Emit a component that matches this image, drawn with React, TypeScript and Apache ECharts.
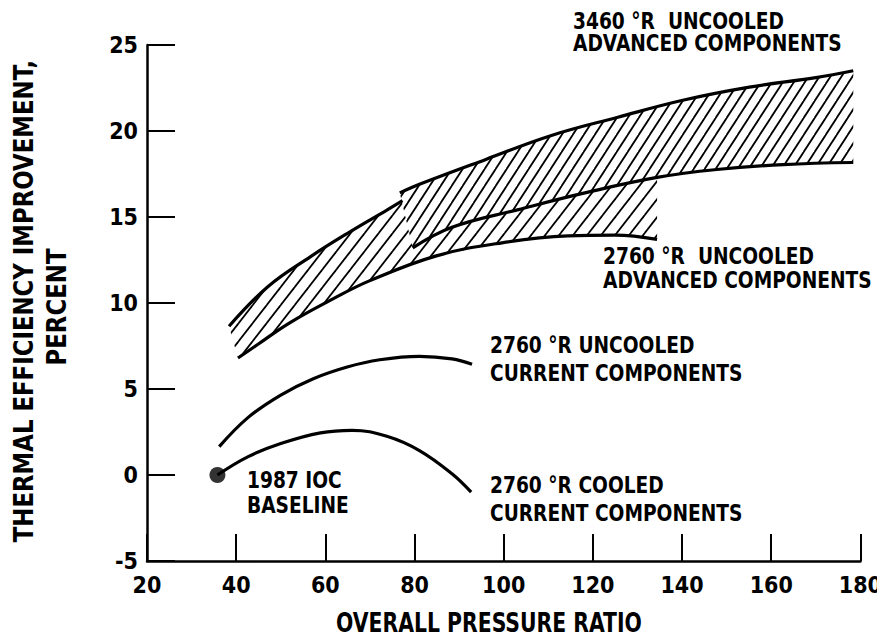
import React, { useEffect, useRef } from "react";
import * as echarts from "echarts";

// ---- data ----
const cooledCurrentX = [35.8, 42.7, 50, 58.9, 66, 73.8, 81.1, 88.4, 92.7];
const cooledCurrentY = [0.0, 1.07, 1.83, 2.45, 2.6, 2.25, 1.42, 0.07, -1.0];

const uncooledCurrentX = [36.2, 42.7, 50, 57.3, 64.9, 72.2, 81.1, 88.4, 92.9];
const uncooledCurrentY = [1.65, 3.35, 4.65, 5.6, 6.28, 6.7, 6.9, 6.75, 6.44];

const adv2760UpperX = [38.4, 47.1, 56.7, 65.6, 73.8, 77.3];
const adv2760UpperY = [8.65, 10.95, 12.7, 14.15, 15.4, 15.95];

const adv2760LowerX = [40.4, 44.9, 52, 61.8, 70, 84.9, 99.6, 114.4, 125, 134.4];
const adv2760LowerY = [6.8, 7.6, 8.85, 10.25, 11.3, 12.74, 13.5, 13.9, 13.95, 13.7];

const adv3460UpperX = [76.7, 81.1, 96, 110.7, 125.6, 140.4, 155.1, 170, 178.4];
const adv3460UpperY = [16.4, 16.9, 18.35, 19.74, 20.8, 21.8, 22.55, 23.1, 23.5];

const adv3460LowerX = [79.6, 88.4, 103.3, 118.2, 134.4, 147.8, 162.7, 178.4];
const adv3460LowerY = [13.2, 14.4, 15.43, 16.4, 17.3, 17.76, 18.05, 18.17];

const baselinePoint = [35.8, 0];

const xMin = 20;
const xMax = 180;
const xStep = 20;
const yMin = -5;
const yMax = 25;
const yStep = 5;

const xTitle = "OVERALL PRESSURE RATIO";
const yTitleLines = ["THERMAL EFFICIENCY IMPROVEMENT,", "PERCENT"];

const FONT = "'DejaVu Sans Condensed', 'Liberation Sans Narrow', 'Arial Narrow', sans-serif";

const zip = (xs: number[], ys: number[]) => xs.map((x, i) => [x, ys[i]]);

function makeHatch(w: number, h: number, lw: number) {
  const c = document.createElement("canvas");
  c.width = w;
  c.height = h;
  const ctx = c.getContext("2d")!;
  ctx.fillStyle = "#fff";
  ctx.fillRect(0, 0, w, h);
  ctx.strokeStyle = "#000";
  ctx.lineWidth = lw;
  for (let n = 0; n <= 2; n++) {
    ctx.beginPath();
    ctx.moveTo(n * w + w, -h);
    ctx.lineTo(n * w - 2 * w, 2 * h);
    ctx.stroke();
  }
  return c;
}

export default function App() {
  const ref = useRef<HTMLDivElement>(null);

  useEffect(() => {
    if (!ref.current) return;
    const chart = echarts.init(ref.current, undefined, { renderer: "svg" });

    const hatchA = { image: makeHatch(14, 18, 1.8), repeat: "repeat" };
    const hatchB = { image: makeHatch(11, 17, 1.8), repeat: "repeat" };

    const upperA = zip(adv2760UpperX, adv2760UpperY);
    const lowerA = zip(adv2760LowerX, adv2760LowerY);
    const upperB = zip(adv3460UpperX, adv3460UpperY);
    const lowerB = zip(adv3460LowerX, adv3460LowerY);

    // 2760 band: upper edge follows its own curve then the 3460 lower curve
    const bandA = [...upperA, ...lowerB.filter((p) => p[0] <= 134.4), ...lowerA.slice().reverse()];
    const bandB = [...upperB, ...lowerB.slice().reverse()];

    const bandSeries = (pts: number[][], fill: any) => ({
      type: "custom",
      silent: true,
      z: 1,
      data: [[100, 10]],
      encode: { x: 0, y: 1 },
      renderItem: (_params: any, api: any) => ({
        type: "polygon",
        shape: { points: pts.map((p) => api.coord(p)) },
        style: { fill, stroke: null },
      }),
    });

    const lineSeries = (name: string, data: number[][]) => ({
      name,
      type: "line",
      data,
      smooth: 0.4,
      symbol: "none",
      lineStyle: { color: "#000", width: 3.2 },
      z: 3,
    });

    const textStyle = { fontFamily: FONT, fontWeight: "bold", fontSize: 23, fill: "#000" };
    const label = (text: string, left: number, top: number) => ({
      type: "text",
      x: left,
      y: top,
      scaleX: 0.9,
      z: 10,
      style: { ...textStyle, text, textVerticalAlign: "top" },
    });

    chart.setOption({
      animation: false,
      backgroundColor: "#fff",
      grid: { left: 147, right: 20, top: 45, bottom: 82, containLabel: false },
      xAxis: {
        type: "value",
        min: xMin,
        max: xMax,
        interval: xStep,
        axisLine: { onZero: false, lineStyle: { color: "#000", width: 2.5 } },
        axisTick: { inside: true, length: 27, lineStyle: { color: "#000", width: 2 } },
        axisLabel: { margin: 12, fontFamily: FONT, fontWeight: "bold", fontSize: 23, color: "#000" },
        splitLine: { show: false },
      },
      yAxis: {
        type: "value",
        min: yMin,
        max: yMax,
        interval: yStep,
        axisLine: { onZero: false, lineStyle: { color: "#000", width: 2.5 } },
        axisTick: { inside: true, length: 28, lineStyle: { color: "#000", width: 2 } },
        axisLabel: { margin: 9, fontFamily: FONT, fontWeight: "bold", fontSize: 23, color: "#000" },
        splitLine: { show: false },
      },
      series: [
        bandSeries(bandA, hatchA),
        bandSeries(bandB, hatchB),
        lineSeries("2760 °R UNCOOLED ADVANCED upper", upperA),
        lineSeries("2760 °R UNCOOLED ADVANCED lower", lowerA),
        lineSeries("3460 °R UNCOOLED ADVANCED upper", upperB),
        lineSeries("3460 °R UNCOOLED ADVANCED lower", lowerB),
        lineSeries("2760 °R UNCOOLED CURRENT", zip(uncooledCurrentX, uncooledCurrentY)),
        lineSeries("2760 °R COOLED CURRENT", zip(cooledCurrentX, cooledCurrentY)),
        {
          name: "1987 IOC BASELINE",
          type: "scatter",
          data: [baselinePoint],
          symbol: "circle",
          symbolSize: 16,
          itemStyle: { color: "#000" },
          z: 4,
        },
      ],
      graphic: [
        {
          type: "text",
          x: 489,
          y: 623,
          scaleX: 0.84,
          style: {
            text: xTitle,
            fontFamily: FONT,
            fontWeight: "bold",
            fontSize: 27,
            fill: "#000",
            textAlign: "center",
            textVerticalAlign: "middle",
          },
        },
        {
          type: "text",
          x: 24,
          y: 301,
          rotation: Math.PI / 2,
          scaleX: 0.94,
          style: {
            text: yTitleLines[0],
            fontFamily: FONT,
            fontWeight: "bold",
            fontSize: 27,
            fill: "#000",
            textAlign: "center",
            textVerticalAlign: "middle",
          },
        },
        {
          type: "text",
          x: 57,
          y: 307,
          rotation: Math.PI / 2,
          scaleX: 0.94,
          style: {
            text: yTitleLines[1],
            fontFamily: FONT,
            fontWeight: "bold",
            fontSize: 27,
            fill: "#000",
            textAlign: "center",
            textVerticalAlign: "middle",
          },
        },
        label("3460 °R  UNCOOLED", 573, 10),
        label("ADVANCED COMPONENTS", 573, 32),
        label("2760 °R  UNCOOLED", 603, 245),
        label("ADVANCED COMPONENTS", 603, 269),
        label("2760 °R UNCOOLED", 490, 334),
        label("CURRENT COMPONENTS", 490, 362),
        label("2760 °R COOLED", 490, 474),
        label("CURRENT COMPONENTS", 490, 502),
        label("1987 IOC", 247, 469),
        label("BASELINE", 247, 494),
      ],
    });

    return () => chart.dispose();
  }, []);

  return <div ref={ref} style={{ width: 885, height: 643, margin: -8 }} />;
}
